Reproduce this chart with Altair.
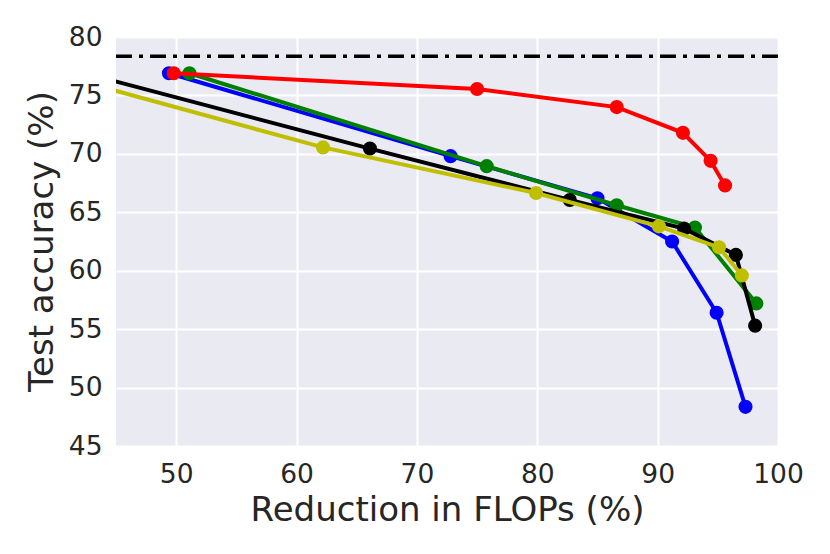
import altair as alt
import pandas as pd

# Series data (x: reduction in FLOPs %, y: test accuracy %)
blue_x = [49.4, 72.8, 85.0, 91.2, 94.9, 97.3]
blue_y = [76.9, 69.8, 66.2, 62.5, 56.4, 48.35]
blue_s = [0.15, 0.2, 0.3, 0.4, 0.45, 0.45]

green_x = [51.1, 75.8, 86.6, 93.1, 98.2]
green_y = [76.9, 68.95, 65.6, 63.7, 57.2]
green_s = [0.15, 0.35, 0.45, 0.65, 0.4]

red_x = [49.8, 75.0, 86.6, 92.1, 94.4, 95.6]
red_y = [76.9, 75.55, 74.0, 71.8, 69.4, 67.3]
red_s = [0.1, 0.2, 0.4, 0.35, 0.25, 0.2]

black_x = [40.0, 66.1, 82.7, 92.2, 96.5, 98.1]
black_y = [77.55, 70.45, 66.05, 63.6, 61.35, 55.3]
black_s = [0.3, 0.3, 0.25, 0.35, 0.35, 0.2]

yellow_x = [40.0, 62.2, 79.9, 90.1, 95.1, 97.0]
yellow_y = [76.8, 70.55, 66.65, 63.8, 62.0, 59.6]
yellow_s = [0.35, 0.35, 0.35, 0.4, 0.4, 0.3]

baseline_acc = 78.35

series = ["blue", "green", "red", "black", "yellow"]
colors = ["#0000FF", "#008000", "#FF0000", "#000000", "#BFBF00"]

rows = []
for name, xs, ys, ss in [
    ("blue", blue_x, blue_y, blue_s),
    ("green", green_x, green_y, green_s),
    ("red", red_x, red_y, red_s),
    ("black", black_x, black_y, black_s),
    ("yellow", yellow_x, yellow_y, yellow_s),
]:
    for i, (x, y, s) in enumerate(zip(xs, ys, ss)):
        rows.append({"series": name, "order": i, "x": x, "y": y, "lo": y - s, "hi": y + s})
df = pd.DataFrame(rows)

txt = "#262626"
xscale = alt.Scale(domain=[45, 100], nice=False, zero=False)
yscale = alt.Scale(domain=[45, 80], nice=False, zero=False)
cscale = alt.Scale(domain=series, range=colors)

xaxis = alt.Axis(
    values=[50, 60, 70, 80, 90, 100], title="Reduction in FLOPs (%)",
    grid=True, gridColor="white", gridWidth=2, domain=False, ticks=False,
    labelFontSize=26.5, labelColor=txt, labelFont="DejaVu Sans",
    labelBaseline="alphabetic", labelPadding=36, labelFlush=False,
    titleFontSize=34, titleColor=txt, titleFont="DejaVu Sans", titleFontWeight="normal",
    titleX=331, titleY=74, titleBaseline="alphabetic", titleAlign="center",
)
yaxis = alt.Axis(
    values=[45, 50, 55, 60, 65, 70, 75, 80], title="Test accuracy (%)",
    grid=True, gridColor="white", gridWidth=2, domain=False, ticks=False,
    labelFontSize=26.5, labelColor=txt, labelFont="DejaVu Sans",
    labelPadding=14, labelBaseline="middle", labelFlush=False,
    titleFontSize=34, titleColor=txt, titleFont="DejaVu Sans", titleFontWeight="normal",
    titleX=-64, titleY=204, titleAngle=270, titleBaseline="alphabetic", titleAlign="center",
)

base = alt.Chart(df)

layers = []
for name in series:
    sub = base.transform_filter(alt.datum.series == name)
    band = sub.mark_area(opacity=0.4, clip=True).encode(
        x=alt.X("x:Q", scale=xscale, axis=xaxis),
        y=alt.Y("lo:Q", scale=yscale, axis=yaxis),
        y2="hi:Q",
        color=alt.Color("series:N", scale=cscale, legend=None),
        order="order:Q",
    )
    line = sub.mark_line(strokeWidth=4, clip=True).encode(
        x=alt.X("x:Q", scale=xscale),
        y=alt.Y("y:Q", scale=yscale),
        color=alt.Color("series:N", scale=cscale, legend=None),
        order="order:Q",
    )
    pts = sub.mark_circle(size=200, opacity=1, clip=True).encode(
        x=alt.X("x:Q", scale=xscale),
        y=alt.Y("y:Q", scale=yscale),
        color=alt.Color("series:N", scale=cscale, legend=None),
    )
    layers += [band, line, pts]

ref = alt.Chart(pd.DataFrame({"y": [baseline_acc]})).mark_rule(
    color="black", strokeWidth=3.5, strokeDash=[16, 7, 4, 7]
).encode(y=alt.Y("y:Q", scale=yscale))

chart = alt.layer(ref, *layers).properties(
    width=662, height=409,
    background="white",
    autosize=alt.AutoSizeParams(type="none"),
    padding={"left": 108, "top": 29, "right": 30, "bottom": 95},
).configure_view(fill="#EAEAF2", strokeWidth=0)

chart.save("out.html", embed_options={"renderer": "svg", "actions": False})
